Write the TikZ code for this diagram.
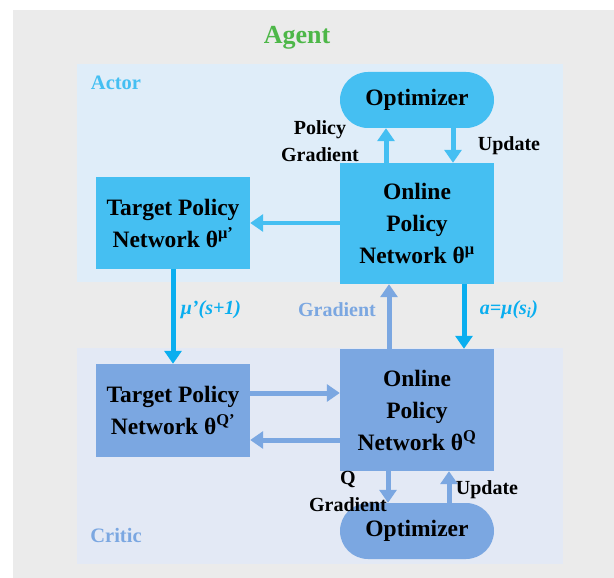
\documentclass[tikz,border=0pt]{standalone}
\usepackage{fontspec}
\setmainfont{Liberation Serif}
\usetikzlibrary{arrows.meta}
\definecolor{bggray}{HTML}{EBEBEB}
\definecolor{actpanel}{HTML}{DFEDF9}
\definecolor{critpanel}{HTML}{E3E9F5}
\definecolor{actnode}{HTML}{45BFF2}
\definecolor{critnode}{HTML}{7BA7E1}
\definecolor{vivid}{HTML}{0AAEEF}
\definecolor{agentgreen}{HTML}{4DB748}
\tikzset{
  box/.style={draw=none, minimum width=154pt, inner sep=0pt, align=center,
    font=\fontsize{23.5}{32}\selectfont\bfseries},
  optbox/.style={box, minimum height=56pt, rounded corners=28pt},
  arr/.style={line width=5pt, -{Triangle[width=17pt,length=13pt]}},
  lbl/.style={font=\fontsize{20}{27}\selectfont\bfseries, align=center, inner sep=0pt},
  mlbl/.style={lbl, font=\fontsize{20}{27}\selectfont\bfseries\itshape},
  panelname/.style={font=\fontsize{20.5}{22}\selectfont\bfseries, inner sep=0pt}
}
\begin{document}
\begin{tikzpicture}[x=1pt,y=-1pt]
\useasboundingbox[fill=white] (0,0) rectangle (614,578);
\fill[bggray] (13,10) rectangle (614,578);
\fill[actpanel] (77,64) rectangle (563,282);
\fill[critpanel] (77,348) rectangle (563,564);
\node[font=\fontsize{26}{28}\selectfont\bfseries, text=agentgreen] (agent) at (297,38) {Agent};
\node[panelname, text=actnode] (actor) at (116,83) {Actor};
\node[panelname, text=critnode] (critic) at (116,535) {Critic};
% actor
\node[optbox, fill=actnode] (aopt) at (417,100) {Optimizer};
\node[box, fill=actnode, minimum height=121pt] (aon) at (417,223.5) {Online\\Policy\\Network θ\textsuperscript{μ}};
\node[box, fill=actnode, minimum height=92pt] (atg) at (173,223) {Target Policy\\Network θ\textsuperscript{μ'}};
% critic
\node[box, fill=critnode, minimum height=122pt] (con) at (417,410) {Online\\Policy\\Network θ\textsuperscript{Q}};
\node[box, fill=critnode, minimum height=93pt] (ctg) at (173,410.5) {Target Policy\\Network θ\textsuperscript{Q'}};
\node[optbox, fill=critnode] (copt) at (417,531) {Optimizer};
% actor arrows
\draw[arr, actnode] ([xshift=-31pt]aon.north) -- ([xshift=-31pt]aopt.south);
\draw[arr, actnode] ([xshift=36pt]aopt.south) -- ([xshift=36pt]aon.north);
\draw[arr, actnode, line width=4pt] (atg.east -| aon.west) -- (atg.east);
\node[lbl] (pg) at (320,141) {Policy\\Gradient};
\node[lbl] (aupd) at (509,146) {Update};
% between
\draw[arr, vivid] (atg.south) -- (ctg.north);
\draw[arr, critnode] ([xshift=-28pt]con.north) -- ([xshift=-28pt]aon.south);
\draw[arr, vivid] ([xshift=47pt]aon.south) -- ([xshift=47pt]con.north);
\node[mlbl, text=vivid] (mulbl) at (211,310) {μ'(s+1)};
\node[lbl, text=critnode] (glbl) at (337,310) {Gradient};
\node[mlbl, text=vivid] (albl) at (509,310) {a=μ(s\textsubscript{i})};
% critic arrows
\draw[arr, critnode] ([yshift=17.5pt]ctg.east) -- ([yshift=17.5pt]ctg.east -| con.west);
\draw[arr, critnode] ([yshift=-29.5pt]ctg.east -| con.west) -- ([yshift=-29.5pt]ctg.east);
\draw[arr, critnode] ([xshift=-29pt]con.south) -- ([xshift=-29pt]copt.north);
\draw[arr, critnode] ([xshift=32pt]copt.north) -- ([xshift=32pt]con.south);
\node[lbl] (qg) at (348,491) {Q\\Gradient};
\node[lbl] (cupd) at (487,490) {Update};
\end{tikzpicture}
\end{document}
